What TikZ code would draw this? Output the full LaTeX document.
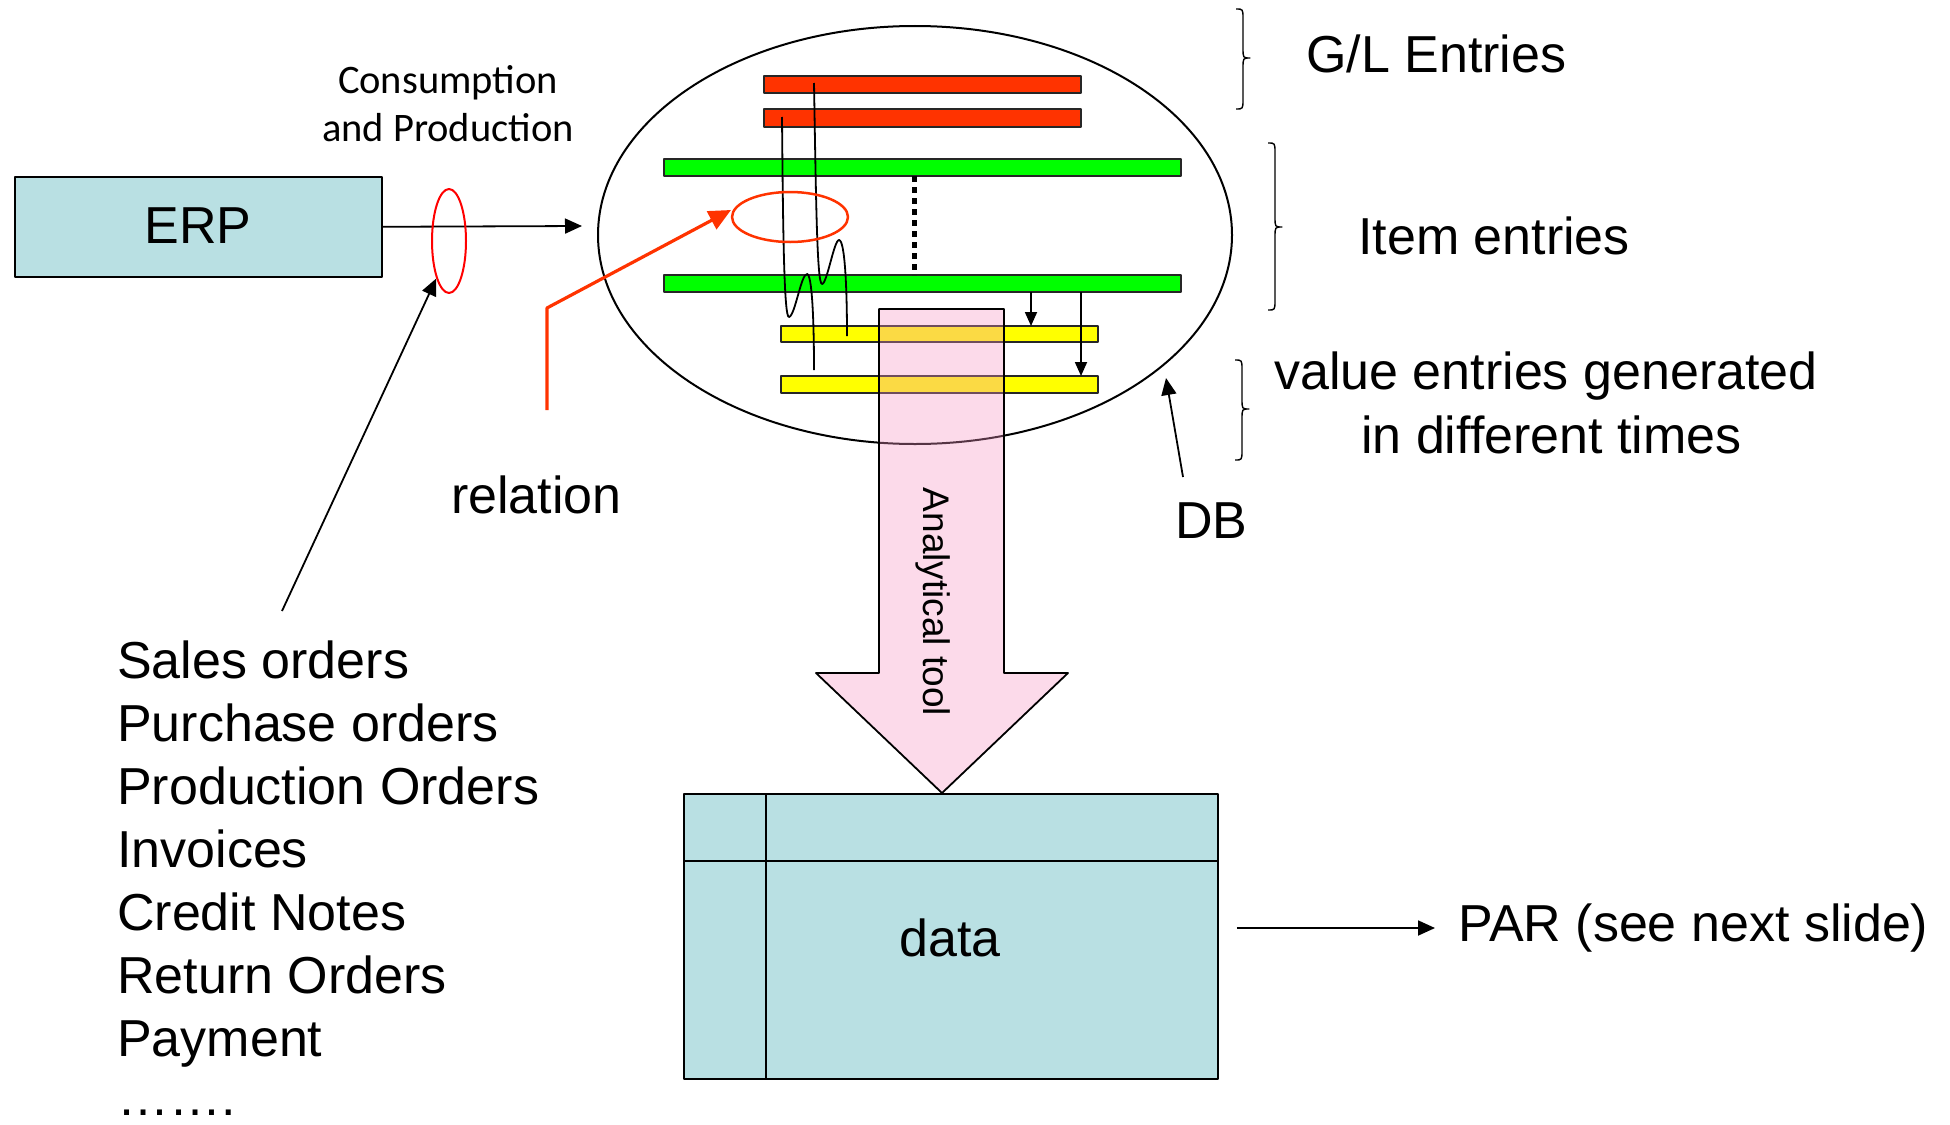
\documentclass[tikz,border=0pt]{standalone}
\usepackage{fontspec}
\setmainfont{Liberation Sans}
\newfontfamily\calfont{Carlito}
\usetikzlibrary{arrows.meta,shapes.geometric}
\definecolor{erpblue}{RGB}{185,224,227}
\definecolor{glred}{RGB}{255,51,0}
\definecolor{itgreen}{RGB}{0,255,0}
\definecolor{veyellow}{RGB}{255,255,0}
\definecolor{tpink}{RGB}{245,150,195}
\newcommand\rbr[4]{%
  \draw[line width=1.4pt] (#1,#2) .. controls (#1+7,#2) .. (#1+7,#2+10) -- (#1+7,#4-10)
    .. controls (#1+7,#4) .. (#1+14,#4) .. controls (#1+7,#4) .. (#1+7,#4+10)
    -- (#1+7,#3-10) .. controls (#1+7,#3) .. (#1,#3);}
\begin{document}
\begin{tikzpicture}[x=1pt,y=-1pt,line join=round,
  big/.style={font=\fontsize{52}{63}\selectfont,inner sep=0pt},
  bar/.style={draw=black!85,line width=1.6pt,inner sep=0pt,outer sep=0pt,anchor=north west},
  conn/.style={line width=1.8pt,-{Triangle[length=17pt,width=15pt]}},
  smallconn/.style={line width=1.8pt,-{Triangle[length=14pt,width=12pt]}},
  redconn/.style={glred,line width=3.2pt,-{Triangle[length=22pt,width=20pt]}},
  squig/.style={line width=1.8pt}]
\useasboundingbox (0,0) rectangle (1950,1124);

% DB ellipse
\node[draw,ellipse,line width=2pt,minimum width=634pt,minimum height=418pt,inner sep=0pt] (db) at (915,235) {};

% bars
\node[bar,fill=glred,minimum width=317pt,minimum height=17pt] (gl1) at (764,76) {};
\node[bar,fill=glred,minimum width=317pt,minimum height=18pt] (gl2) at (764,109) {};
\node[bar,fill=itgreen,minimum width=517pt,minimum height=17pt] (it1) at (664,159) {};
\node[bar,fill=itgreen,minimum width=517pt,minimum height=17pt] (it2) at (664,275) {};
\node[bar,fill=veyellow,minimum width=317pt,minimum height=16pt] (ve1) at (781,326) {};
\node[bar,fill=veyellow,minimum width=317pt,minimum height=17pt] (ve2) at (781,376) {};

% dotted link between item entries
\draw[line width=5pt,dash pattern=on 6pt off 5pt] (914,176) -- (914,275);

% squiggly lines
\coordinate (s1a) at (782,117);
\coordinate (s1b) at (814,370);
\coordinate (s2a) at (814,83);
\coordinate (s2b) at (847,336);
\draw[squig] (s1a) .. controls (783,230) and (784,318) .. (789,317)
  .. controls (795,316) and (801,274) .. (807,274)
  .. controls (812,274) and (814,320) .. (s1b);
\draw[squig] (s2a) .. controls (816,200) and (817,284) .. (822,284)
  .. controls (827,284) and (834,240) .. (839,240)
  .. controls (845,240) and (847,290) .. (s2b);

% arrows item -> value
\coordinate (a1s) at (1031,292); \coordinate (a1e) at (1031,326);
\coordinate (a2s) at (1081,292); \coordinate (a2e) at (1081,376);
\draw[smallconn] (a1s) -- (a1e);
\draw[smallconn] (a2s) -- (a2e);

% relation ellipse and red arrow
\node[draw=glred,ellipse,line width=2.5pt,minimum width=116pt,minimum height=50pt,inner sep=0pt] (rel) at (790,217) {};
\coordinate (rs) at (547,410);
\coordinate (rc) at (547,308);
\coordinate (re) at (731,210);
\draw[redconn] (rs) -- (rc) -- (re);

% ERP
\node[draw,fill=erpblue,line width=1.6pt,minimum width=367pt,minimum height=100pt,anchor=north west,big] (erp) at (14,176) {};
\node[big] (erpt) at (198,226) {ERP};
\coordinate (dbin) at (582,226);
\draw[conn] (erp.east) -- (dbin);
\node[draw=red,ellipse,line width=2pt,minimum width=34pt,minimum height=104pt,inner sep=0pt] (flow) at (449,241) {};
\node[font=\calfont\fontsize{40.5}{48}\selectfont,align=center,anchor=base,inner sep=0pt] (cp) at (448,141) {Consumption\\and Production};

% list
\node[big,anchor=base west] (l1) at (117,678) {Sales orders};
\node[big,anchor=base west] (l2) at (117,741) {Purchase orders};
\node[big,anchor=base west] (l3) at (117,804) {Production Orders};
\node[big,anchor=base west] (l4) at (117,867) {Invoices};
\node[big,anchor=base west] (l5) at (117,930) {Credit Notes};
\node[big,anchor=base west] (l6) at (117,993) {Return Orders};
\node[big,anchor=base west] (l7) at (117,1056) {Payment};
\node[big,anchor=base west] (l8) at (117,1115) {…….};
\coordinate (ls) at (282,611);
\draw[conn] (ls) -- (flow.south west);

% labels
\node[big,anchor=base west] (relt) at (451,513) {relation};
\node[big,anchor=base west] (dbt) at (1175,538) {DB};
\coordinate (dbs) at (1183,477);
\coordinate (dbe) at (1166,378);
\draw[conn] (dbs) -- (dbe);

% braces and right labels
\rbr{1236}{9}{109}{58}
\rbr{1268}{143}{310}{227}
\rbr{1235}{360}{460}{409}
\node[big,anchor=base west] (glt) at (1306,72) {G/L Entries};
\node[big,anchor=base west] (itt) at (1358,254) {Item entries};
\node[big,anchor=base west] (vet1) at (1274,389) {value entries generated};
\node[big,anchor=base west] (vet2) at (1361,453) {in different times};

% analytical tool arrow
\draw[line width=1.8pt,fill=tpink,fill opacity=0.35] (879,309) -- (1004,309) -- (1004,673) -- (1068,673) -- (942,793) -- (816,673) -- (879,673) -- cycle;
\node[rotate=-90,font=\fontsize{37}{44}\selectfont,inner sep=0pt] (att) at (933,602) {Analytical tool};

% data table
\node[draw,fill=erpblue,line width=1.8pt,minimum width=534pt,minimum height=285pt,anchor=north west,inner sep=0pt] (data) at (683,793) {};
\draw[line width=1.8pt] (766,793) -- (766,1078);
\draw[line width=1.8pt] (683,861) -- (1217,861);
\node[big,anchor=base] (datat) at (950,956) {data};
\node[big,anchor=base west] (par) at (1458,941) {PAR (see next slide)};
\coordinate (pare) at (1435,928);
\draw[conn] (data.east |- pare) ++(18,0) coordinate (pars) -- (pare);
\end{tikzpicture}
\end{document}
